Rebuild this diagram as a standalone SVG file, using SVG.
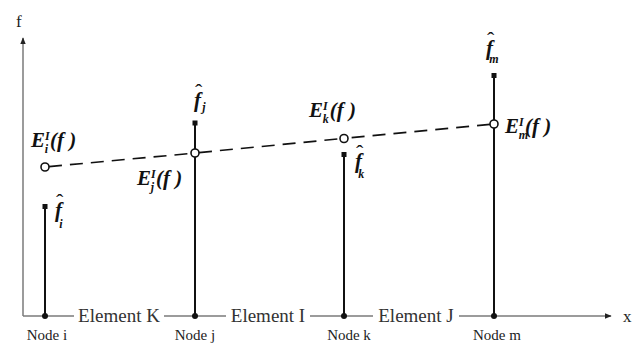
<svg xmlns="http://www.w3.org/2000/svg" width="637" height="347" viewBox="0 0 637 347">
<style>
.axis{stroke:#7a7a7a;stroke-width:1.5;fill:none}
.stem{stroke:#111;stroke-width:2;fill:none}
.dash{stroke:#111;stroke-width:1.6;fill:none;stroke-dasharray:13 8}
.circ{fill:#fff;stroke:#111;stroke-width:1.6}
.sq{fill:#111}
.dot{fill:#111}
text{font-family:"Liberation Serif","Times New Roman",serif}
.ax{font-size:17px;fill:#222}
.el{font-size:19px;fill:#333}
.nd{font-size:15px;fill:#222;text-anchor:middle}
.m{font-size:21px;font-weight:bold;font-style:italic;fill:#111}
.s{font-size:12px}
.hat{font-size:22px;font-weight:normal;font-style:normal}
</style>
<defs>
<marker id="arr" viewBox="0 0 10 10" refX="9" refY="5" markerWidth="7" markerHeight="7" orient="auto" markerUnits="userSpaceOnUse">
<path d="M0,1 L10,5 L0,9 z" fill="#222"/>
</marker>
</defs>
<g id="axes">
<line class="axis" x1="23" y1="316" x2="23" y2="38" marker-end="url(#arr)"/>
<line class="axis" x1="23" y1="316" x2="74" y2="316"/>
<line class="axis" x1="164" y1="316" x2="226" y2="316"/>
<line class="axis" x1="310" y1="316" x2="373" y2="316"/>
<line class="axis" x1="459" y1="316" x2="611" y2="316" marker-end="url(#arr)"/>
<text class="ax" x="16" y="27">f</text>
<text class="ax" x="623" y="322">x</text>
</g>
<g id="connectors">
<line class="dash" x1="49" y1="166.6" x2="191" y2="153.4"/>
<line class="dash" x1="199" y1="152.6" x2="340" y2="138.8"/>
<line class="dash" x1="490" y1="124.4" x2="348" y2="138"/>
</g>
<g id="element-labels">
<text class="el" x="119" y="322" text-anchor="middle">Element K</text>
<text class="el" x="268" y="322" text-anchor="middle">Element I</text>
<text class="el" x="416" y="322" text-anchor="middle">Element J</text>
</g>
<g id="node-i">
<line class="stem" x1="45" y1="316" x2="45" y2="207"/>
<rect class="sq" x="42.5" y="204" width="5" height="5"/>
<circle class="dot" cx="45" cy="316" r="3"/>
<circle class="circ" cx="45" cy="167" r="4"/>
<text class="nd" x="47" y="340">Node i</text>
<text class="m" x="31" y="147">E<tspan class="s" dy="-7">I</tspan><tspan class="s" dx="-5" dy="13">i</tspan><tspan dx="2" dy="-6">(f )</tspan></text>
<text class="m" x="55" y="217">f<tspan class="hat" dx="-6" dy="-8">ˆ</tspan><tspan class="s" dx="-4" dy="19">i</tspan></text>
</g>
<g id="node-j">
<line class="stem" x1="195" y1="316" x2="195" y2="123"/>
<rect class="sq" x="192.5" y="120.5" width="5" height="5"/>
<circle class="dot" cx="195" cy="316" r="3"/>
<circle class="circ" cx="195" cy="153" r="4"/>
<text class="nd" x="195" y="340">Node j</text>
<text class="m" x="137" y="185">E<tspan class="s" dy="-7">I</tspan><tspan class="s" dx="-5" dy="13">j</tspan><tspan dx="2" dy="-6">(f )</tspan></text>
<text class="m" x="194" y="107">f<tspan class="hat" dx="-6" dy="-8">ˆ</tspan><tspan class="s" dx="0" dy="12">j</tspan></text>
</g>
<g id="node-k">
<line class="stem" x1="344" y1="316" x2="344" y2="155"/>
<rect class="sq" x="341.5" y="152" width="5" height="5"/>
<circle class="dot" cx="344" cy="316" r="3"/>
<circle class="circ" cx="344" cy="138.5" r="4"/>
<text class="nd" x="349" y="340">Node k</text>
<text class="m" x="309" y="117">E<tspan class="s" dy="-7">I</tspan><tspan class="s" dx="-5" dy="13">k</tspan><tspan dx="1" dy="-6">(f )</tspan></text>
<text class="m" x="355" y="168">f<tspan class="hat" dx="-6" dy="-8">ˆ</tspan><tspan class="s" dx="-5" dy="18">k</tspan></text>
</g>
<g id="node-m">
<line class="stem" x1="494" y1="316" x2="494" y2="76"/>
<rect class="sq" x="491.5" y="73" width="5" height="5"/>
<circle class="dot" cx="494" cy="316" r="3"/>
<circle class="circ" cx="494" cy="124" r="4"/>
<text class="nd" x="497" y="340">Node m</text>
<text class="m" x="505" y="133">E<tspan class="s" dy="-7">I</tspan><tspan class="s" dx="-5" dy="13">m</tspan><tspan dx="-3" dy="-6">(f )</tspan></text>
<text class="m" x="486" y="55">f<tspan class="hat" dx="-6" dy="-8">ˆ</tspan><tspan class="s" dx="-5" dy="16">m</tspan></text>
</g>
</svg>
